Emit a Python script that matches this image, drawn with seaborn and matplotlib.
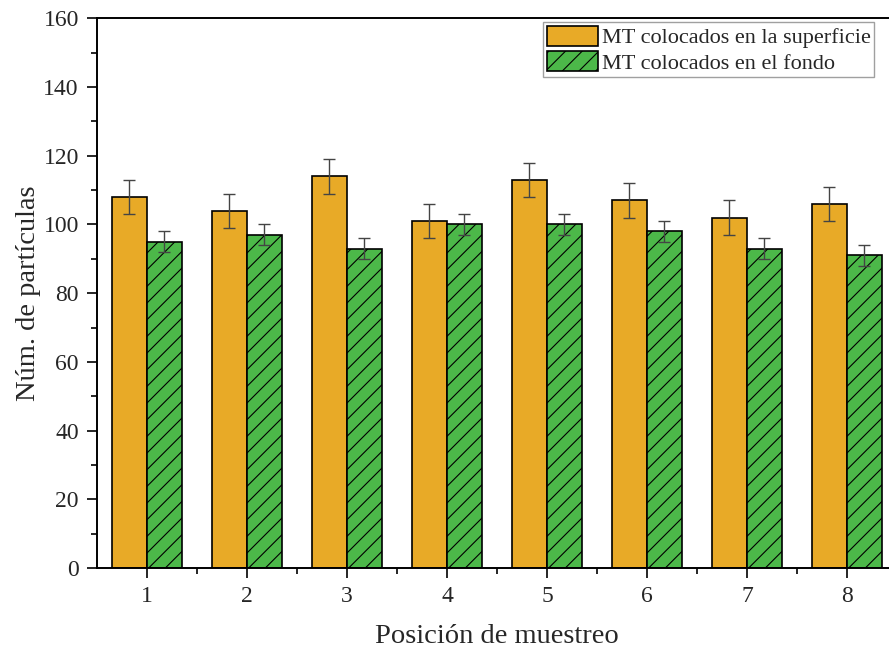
import numpy as np
import pandas as pd
import matplotlib
matplotlib.use('Agg')
import matplotlib.pyplot as plt
from matplotlib.patches import Patch
from matplotlib.ticker import MultipleLocator, FixedLocator
import seaborn as sns

# data
posiciones = [1, 2, 3, 4, 5, 6, 7, 8]
superficie = [108, 104, 114, 101, 113, 107, 102, 106]
superficie_err = [5, 5, 5, 5, 5, 5, 5, 5]
fondo = [95, 97, 93, 100, 100, 98, 93, 91]
fondo_err = [3, 3, 3, 3, 3, 3, 3, 3]
series = ['MT colocados en la superficie', 'MT colocados en el fondo']
colores = ['#E8AA27', '#4CB849']

df = pd.DataFrame({
    'pos': posiciones * 2,
    'val': superficie + fondo,
    'serie': [series[0]] * 8 + [series[1]] * 8,
})

sns.set_style('ticks')
plt.rcParams['font.family'] = ['Liberation Serif', 'DejaVu Serif']
plt.rcParams['hatch.linewidth'] = 0.8

fig = plt.figure(figsize=(8.89, 6.53), dpi=100)
ax = fig.add_axes([0.109, 0.130, 0.900, 0.842])

sns.barplot(data=df, x='pos', y='val', hue='serie', hue_order=series,
            palette=colores, saturation=1, native_scale=True, width=0.7,
            edgecolor='black', linewidth=1.2, errorbar=None, legend=False, ax=ax)

# hatch on the second series, error bars on both
for cont, errs in zip(ax.containers, [superficie_err, fondo_err]):
    xs = [b.get_x() + b.get_width() / 2 for b in cont]
    ys = [b.get_height() for b in cont]
    ax.errorbar(xs, ys, yerr=errs, fmt='none', ecolor='#444444',
                elinewidth=1.0, capsize=4.5, capthick=1.0, zorder=5)
for b in ax.containers[1]:
    b.set_hatch('//')

ax.set_xlim(0.5, 8.5)
ax.set_ylim(0, 160)
ax.set_xticks(posiciones)
ax.set_xticklabels([str(p) for p in posiciones])
ax.xaxis.set_minor_locator(FixedLocator(np.arange(1.5, 8.5, 1)))
ax.yaxis.set_major_locator(MultipleLocator(20))
ax.yaxis.set_minor_locator(MultipleLocator(10))
ax.tick_params(which='major', length=7, width=1.4, labelsize=17, direction='out', pad=6)
ax.tick_params(which='minor', length=4, width=1.4, direction='out')
for sp in ax.spines.values():
    sp.set_linewidth(1.4)
    sp.set_color('black')

ax.set_xlabel('Posición de muestreo', fontsize=20.5, labelpad=12)
ax.set_ylabel('Núm. de partículas', fontsize=20.5, labelpad=2)

handles = [Patch(facecolor=colores[0], edgecolor='black', linewidth=1.2),
           Patch(facecolor=colores[1], edgecolor='black', linewidth=1.2, hatch='//')]
leg = fig.legend(handles, series, loc='upper left', bbox_to_anchor=(0.611, 0.966),
                 fontsize=16, frameon=True, fancybox=False, edgecolor='#888888',
                 handlelength=2.3, handleheight=1.05, handletextpad=0.2,
                 borderpad=0.15, labelspacing=0.1, borderaxespad=0)
leg.get_frame().set_linewidth(1.0)

fig.savefig('out.png', dpi=100)
